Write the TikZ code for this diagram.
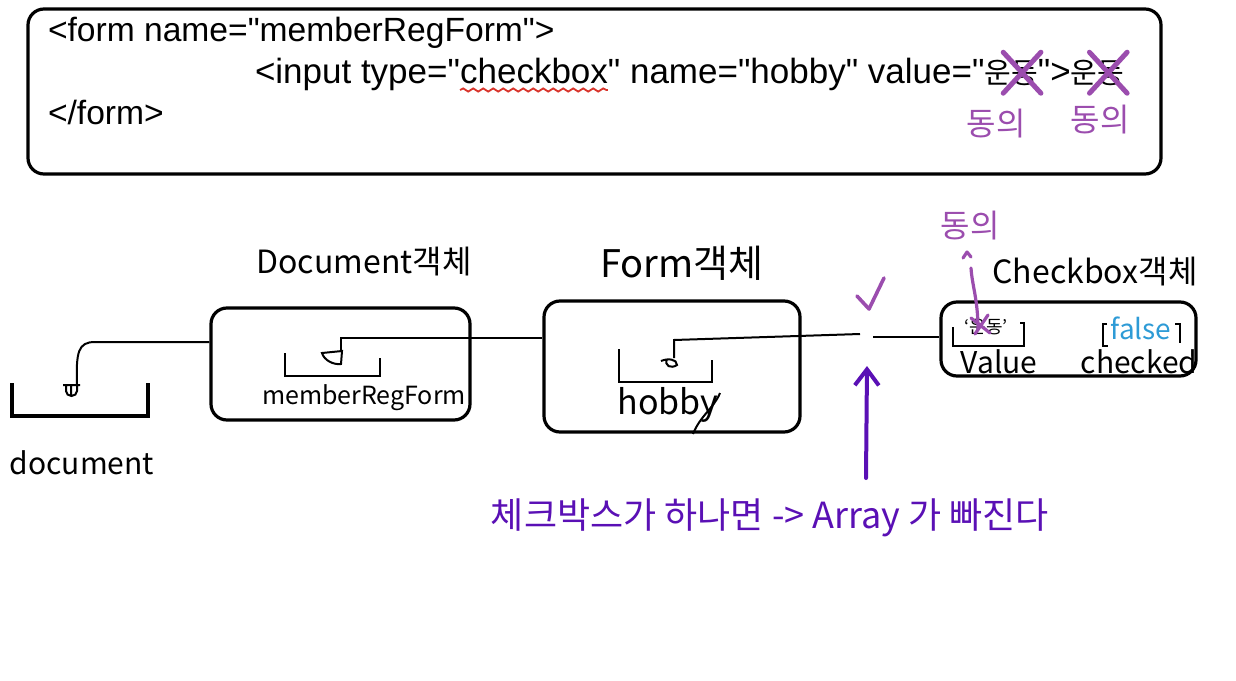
\documentclass[tikz,border=0pt]{standalone}
\usepackage{fontspec}
\setmainfont{Liberation Sans}
\newfontfamily\codefont{Liberation Sans}
\newfontfamily\kr{Noto Sans CJK KR}
\usetikzlibrary{decorations.pathmorphing,arrows.meta}
\definecolor{markc}{HTML}{9B4DAE}
\definecolor{notec}{HTML}{5A10B5}
\definecolor{fblue}{HTML}{2E9BD6}
\definecolor{wavyc}{HTML}{D9342B}
\begin{document}
\begin{tikzpicture}[x=0.5pt,y=-0.5pt,
  obj/.style={draw=black, line width=1.6pt, rounded corners=8pt, inner sep=0pt},
  conn/.style={draw=black, line width=1pt},
  bracket/.style={draw=black, line width=1pt},
  code/.style={font=\codefont\fontsize{17.5}{20}\selectfont, inner sep=0pt, outer sep=0pt, anchor=base west},
  krcode/.style={code, font=\kr\fontsize{14.5}{20}\selectfont},
  hand/.style={font=\kr\fontsize{16}{20}\selectfont, inner sep=0pt},
  markt/.style={font=\kr\fontsize{16}{18}\selectfont, text=markc, inner sep=0pt},
  xmark/.style={draw=markc, line width=2.5pt, line cap=round},
]
\useasboundingbox (0,0) rectangle (1236,680);

% ---------- code box ----------
\node[obj, minimum width=566.5pt, minimum height=82.5pt] (topbox) at (594.5,91.5) {};
\node[code, font=\codefont\fontsize{16.8}{20}\selectfont] (c1) at (48,41) {<form name="memberRegForm">};
\node[code] (c2a) at (255,83) {<input type="};
\node[code] (c2b) at (c2a.base east) {checkbox};
\node[code] (c2c) at (c2b.base east) {" name="hobby" value="};
\node[krcode] (c2d) at (c2c.base east) {운};
\node[krcode] (c2e) at (c2d.base east) {동};
\node[code] (c2f) at (c2e.base east) {">};
\node[krcode] (c2g) at (c2f.base east) {운};
\node[krcode] (c2h) at (c2g.base east) {동};
\node[code, font=\codefont\fontsize{16.8}{20}\selectfont] (c3) at (48,124) {</form>};

\draw[wavyc, line width=0.9pt, decorate, decoration={snake, amplitude=0.8pt, segment length=5pt}]
  ([yshift=-3.5pt]c2b.base west) -- ([yshift=-3.5pt]c2b.base east);

\draw[xmark] ([shift={(-4pt,4pt)}]c2e.north west) -- ([shift={(1.5pt,-4pt)}]c2e.south east);
\draw[xmark] ([shift={(-4pt,-4pt)}]c2e.south west) -- ([shift={(1.5pt,4pt)}]c2e.north east);
\draw[xmark] ([shift={(-4pt,4pt)}]c2h.north west) -- ([shift={(1.5pt,-4pt)}]c2h.south east);
\draw[xmark] ([shift={(-4pt,-4pt)}]c2h.south west) -- ([shift={(1.5pt,4pt)}]c2h.north east);
\node[markt] (agree1) at (996,124) {동의};
\node[markt] (agree2) at (1100,120) {동의};

% ---------- document ----------
\draw[line width=1.6pt] (12,383) -- (12,416) -- (148,416) -- (148,383);
\draw[line width=1pt] (63,385) -- (80,385) (66,385) -- (66,391) arc[start angle=180, end angle=360, x radius=5.5, y radius=-5] -- (77,385) (71,385) -- (71,395);
\coordinate (cupTop) at (77,385);
\node[hand, font=\kr\fontsize{15}{18}\selectfont] (docL) at (82,463) {document};

% ---------- Document object ----------
\node[hand] (docT) at (364,262) {Document객체};
\node[obj, minimum width=129.5pt, minimum height=56pt] (docbox) at (340.5,364) {};
\draw[bracket] (285,353) -- (285,376) -- (380,376) -- (380,358);
\draw[line width=1pt] (322,353) -- (342,351) -- (341,364) .. controls (333,365) and (324,360) .. cycle;
\node[hand, font=\kr\fontsize{12.5}{14}\selectfont] (mrfT) at (364,398) {memberRegForm};

% ---------- Form object ----------
\node[hand, font=\kr\fontsize{19}{22}\selectfont] (formT) at (682,263) {Form객체};
\node[obj, minimum width=128pt, minimum height=65.5pt] (formbox) at (672,366.5) {};
\draw[bracket] (619,349) -- (619,382) -- (712,382) -- (712,360);
\draw[line width=1pt] (661,361) .. controls (668,358) and (677,359) .. (677,365) .. controls (671,369) and (664,366) .. (667,359);
\node[hand, font=\kr\fontsize{17}{20}\selectfont] (hobbyT) at (668,405) {hobby};
\draw[line width=1pt] (720,393) .. controls (714,408) and (700,416) .. (693,434);

% ---------- Checkbox object ----------
\node[hand] (chkT) at (1095,272) {Checkbox객체};
\node[obj, minimum width=127.5pt, minimum height=37pt] (chkbox) at (1068.5,339) {};
\draw[bracket] (953,327) -- (953,346) -- (1024,346) -- (1024,323) -- (1020,323);
\node[hand, font=\kr\fontsize{9}{10}\selectfont] (valV) at (986,327) {‘운동’};
\node[hand, font=\kr\fontsize{15}{18}\selectfont] (valT) at (999,362) {Value};
\draw[bracket] (1107,324) -- (1103,324) -- (1103,346) -- (1108,346);
\draw[bracket] (1175,324) -- (1180,324) -- (1180,343);
\node[hand, font=\kr\fontsize{14}{16}\selectfont, text=fblue] (falseT) at (1141,328) {false};
\node[hand, font=\kr\fontsize{15}{18}\selectfont] (chkdT) at (1139,362) {checked};

% value crossed out -> 동의
\draw[markc, line width=1.6pt, line cap=round] (971,318) -- (990,333) (975,334) -- (988,315);
\node[markt] (agree3) at (970,226) {동의};
\coordinate (caret) at (967,252);
\draw[markc, line width=1.6pt, line cap=round] (978,329) .. controls (978,300) and (972,285) .. (971,268);
\draw[markc, line width=1.6pt, line cap=round, line join=round] (963,258) -- (caret) -- (971,257);

% ---------- connectors ----------
\coordinate (cupTurn) at (95,342);
\draw[conn] (cupTop) .. controls (76,352) and (78,342) .. (cupTurn) -- (docbox.west |- cupTurn);
\coordinate (mrfTop) at (341,352);
\coordinate (mrfTurn) at (341,338);
\draw[conn] (mrfTop) -- (mrfTurn) -- (formbox.west |- mrfTurn);
\coordinate (hobTop) at (674,358);
\coordinate (hobTurn) at (674,340);
\coordinate (gapL) at (860,334);
\coordinate (gapR) at (873,337);
\draw[conn] (hobTop) -- (hobTurn) -- (gapL);
\draw[conn] (gapR) -- (chkbox.west |- gapR);

% ---------- notes ----------
\draw[markc, line width=1.8pt, line cap=round, line join=round] (857,296) -- (869,309) -- (884,278);
\coordinate (arrTail) at (866,478);
\coordinate (arrHead) at (867,366);
\draw[notec, line width=2pt, line cap=round, -{Straight Barb[length=8pt,width=12pt,line width=2pt]}] (arrTail) -- (arrHead);
\node[font=\kr\fontsize{18}{22}\selectfont, text=notec, inner sep=0pt] (note) at (770,518) {체크박스가 하나면 -> Array 가 빠진다};
\end{tikzpicture}
\end{document}
